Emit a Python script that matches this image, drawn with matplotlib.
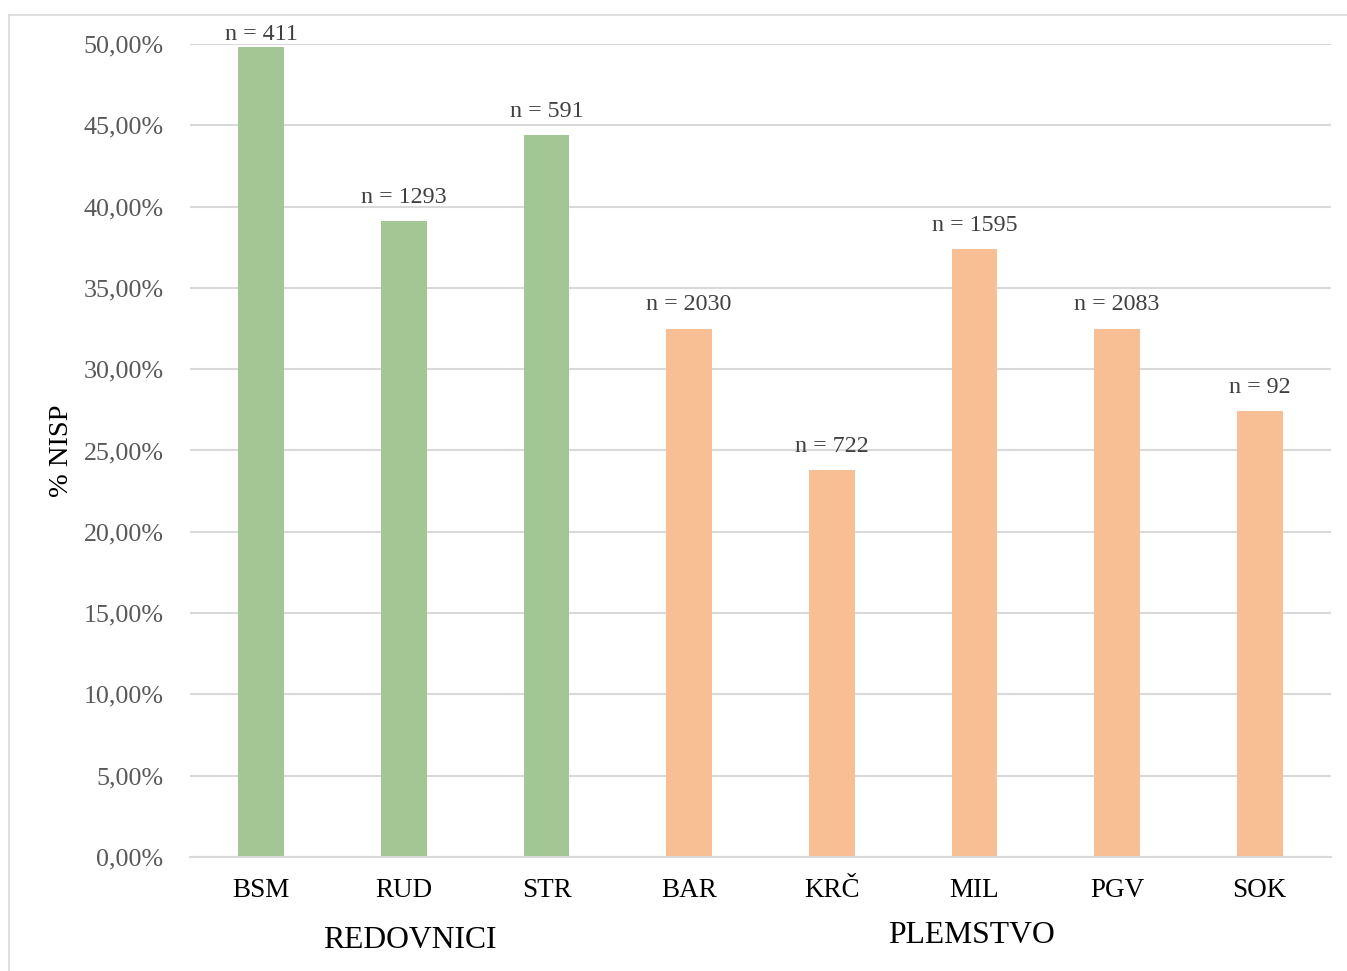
import matplotlib
matplotlib.use("Agg")
import matplotlib.pyplot as plt
import matplotlib.transforms as mtransforms
from matplotlib.lines import Line2D
from matplotlib.ticker import FuncFormatter

categories = ["BSM", "RUD", "STR", "BAR", "KRČ", "MIL", "PGV", "SOK"]
values = [0.498, 0.391, 0.444, 0.325, 0.238, 0.374, 0.325, 0.274]
n_labels = ["n = 411", "n = 1293", "n = 591", "n = 2030", "n = 722", "n = 1595", "n = 2083", "n = 92"]
groups = ["REDOVNICI", "REDOVNICI", "REDOVNICI", "PLEMSTVO", "PLEMSTVO", "PLEMSTVO", "PLEMSTVO", "PLEMSTVO"]
group_colors = {"REDOVNICI": "#A2C794", "PLEMSTVO": "#F7BF93"}
yticks = [0.0, 0.05, 0.10, 0.15, 0.20, 0.25, 0.30, 0.35, 0.40, 0.45, 0.50]

plt.rcParams['font.family'] = ['Liberation Serif', 'DejaVu Serif']

W, H = 1347, 971
fig = plt.figure(figsize=(W / 100, H / 100), dpi=100)
ax = fig.add_axes([190 / W, (H - 857) / H, (1331 - 190) / W, (857 - 44) / H])

x = list(range(len(categories)))
colors = [group_colors[g] for g in groups]
ax.bar(x, values, width=0.32, color=colors, zorder=3)

ax.set_xlim(-0.5, len(categories) - 0.5)
ax.set_ylim(0, 0.5)
ax.set_yticks(yticks)
ax.yaxis.set_major_formatter(FuncFormatter(lambda v, p: f"{v*100:.2f}%".replace(".", ",")))
ax.grid(axis='y', color='#d9d9d9', linewidth=1.5, zorder=0)
ax.set_axisbelow(True)
for s in ['top', 'right', 'left']:
    ax.spines[s].set_visible(False)
ax.spines['bottom'].set_color('#d9d9d9')
ax.spines['bottom'].set_linewidth(1.5)
ax.spines['bottom'].set_zorder(4)
ax.set_xticks(x)
ax.set_xticklabels(categories)
ax.tick_params(axis='y', length=0, pad=19, labelsize=18.7, labelcolor='#595959')
ax.tick_params(axis='x', length=0, pad=15, labelsize=19.5, labelcolor='black')

# data labels
for i, (v, lab) in enumerate(zip(values, n_labels)):
    ax.annotate(lab, xy=(i, min(v, 0.4915)), xytext=(0, 17), textcoords='offset points',
                ha='center', va='center', fontsize=17.3, color='#404040', zorder=5,
                annotation_clip=False)

# group labels
tr = mtransforms.blended_transform_factory(ax.transData, fig.transFigure)
ax.text(1.04, (H - 940) / H, "REDOVNICI", transform=tr,
        ha='center', va='center', fontsize=22.8, color='black')
ax.text(4.98, (H - 935) / H, "PLEMSTVO", transform=tr,
        ha='center', va='center', fontsize=22.8, color='black')

fig.text(62 / W, (H - 451) / H, "% NISP", rotation=90, ha='center', va='center',
         fontsize=20.5, color='black')

# chart border
fig.add_artist(Line2D([9 / W, 1.01], [(H - 15) / H, (H - 15) / H], transform=fig.transFigure,
                      color='#d9d9d9', linewidth=1.2))
fig.add_artist(Line2D([9 / W, 9 / W], [-0.01, (H - 15) / H], transform=fig.transFigure,
                      color='#d9d9d9', linewidth=1.2))

fig.savefig("out.png", dpi=100)
